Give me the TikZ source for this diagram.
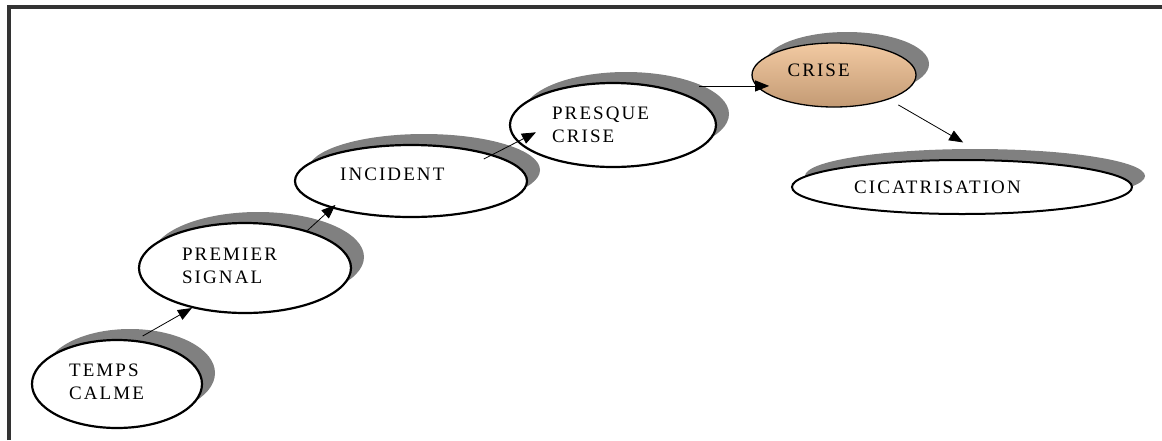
\documentclass[tikz,border=0pt]{standalone}
\usepackage{fontspec}
\setmainfont{Liberation Serif}[LetterSpace=11]
\usetikzlibrary{%
  arrows.meta,shapes.geometric,%
  shadows,positioning}
\definecolor{framegray}{HTML}{333333}
\definecolor{shadowgray}{HTML}{808080}
\definecolor{crisetop}{HTML}{F2CAA2}
\definecolor{crisemid}{HTML}{D9AB80}
\definecolor{crisebot}{HTML}{C39A74}
\tikzset {>={Triangle[length=14pt,width=11pt]}}
\tikzset {
  stage/.style={ellipse,draw,line width=2.2pt,fill=white,inner sep=0pt,
    drop shadow={shadow xshift=13pt,shadow yshift=11pt,
      fill=shadowgray,opacity=1}},
  lbl/.style={inner sep=0pt,align=left,
    font=\fontsize{19}{23}\selectfont},
  link/.style={->,line width=.8pt}}

\begin{document}
\begin{tikzpicture}[x=1pt,y=-1pt]
\useasboundingbox (0,0) rectangle (1162,440);
\draw[line width=4pt,framegray] (9,440) -- (9,7) -- (1162,7);
% the stages
\node[stage,minimum width=170pt,minimum height=88pt] (calme) at (117,384) {};
\node[stage,minimum width=212pt,minimum height=90pt] (signal) at (245,268) {};
\node[stage,minimum width=232pt,minimum height=72pt] (incident) at (411,181) {};
\node[stage,minimum width=206pt,minimum height=84pt] (presque) at (613,125) {};
\node[stage,line width=1.3pt,top color=crisetop,middle color=crisemid,
  bottom color=crisebot,minimum width=164pt,minimum height=64pt] (crise) at (834,75) {};
\node[stage,line width=2pt,minimum width=340pt,minimum height=54pt] (cicat) at (962,187) {};
% their texts
\node[lbl,right=38pt of calme.west,yshift=2pt] (calmetxt) {TEMPS\\CALME};
\node[lbl,right=44pt of signal.west,yshift=2pt] (signaltxt) {PREMIER\\SIGNAL};
\node[lbl,right=46pt of incident.west,yshift=7pt] (incidenttxt) {INCIDENT};
\node[lbl,right=43pt of presque.west] (presquetxt) {PRESQUE\\CRISE};
\node[lbl,right=36pt of crise.west,yshift=5pt] (crisetxt) {CRISE};
\node[lbl,right=63pt of cicat.west] (cicattxt) {CICATRISATION};
% the steps
\draw[link,shorten <=8pt] (calme.67) -- (signal.217);
\draw[link,shorten >=-5pt] (signal.31) -- (incident.199);
\draw[link,shorten <=-10pt,shorten >=-21pt] (incident.18) -- (presque.190);
\draw[link,shorten <=-18pt,shorten >=-13pt] (presque.east |- crise.188) -- (crise.188);
\draw[link,shorten <=11pt,shorten >=34pt] (crise.336) -- (cicat.42);
\end{tikzpicture}
\end{document}
